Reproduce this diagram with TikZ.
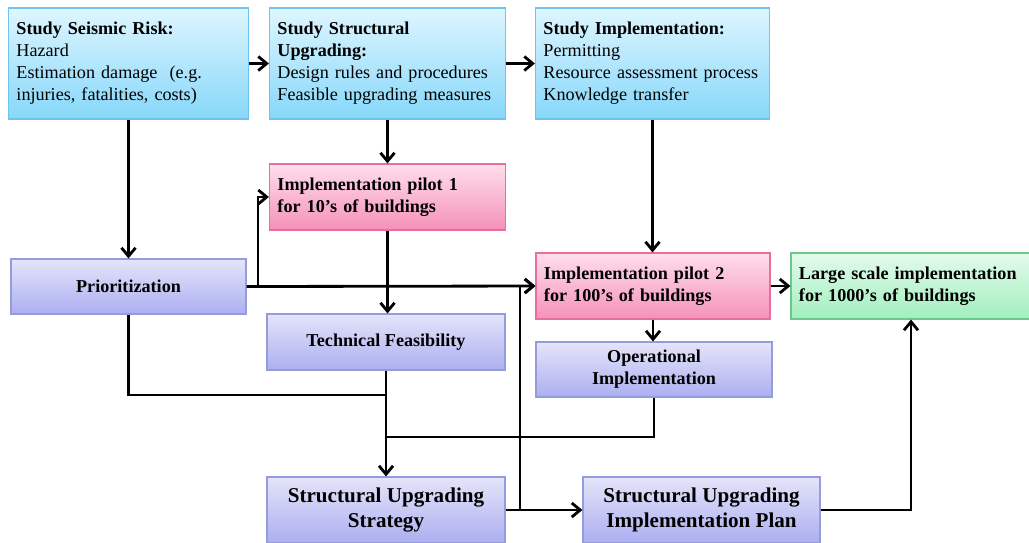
\documentclass[tikz,border=0pt]{standalone}
\usepackage{fontspec}
\setmainfont{Liberation Serif}
\usetikzlibrary{arrows.meta}
\definecolor{blueTop}{RGB}{222,246,255}
\definecolor{blueBot}{RGB}{135,215,250}
\definecolor{blueEdge}{RGB}{110,195,240}
\definecolor{pinkTop}{RGB}{255,222,234}
\definecolor{pinkBot}{RGB}{245,145,185}
\definecolor{pinkEdge}{RGB}{232,110,160}
\definecolor{lavTop}{RGB}{228,228,250}
\definecolor{lavBot}{RGB}{172,175,240}
\definecolor{lavEdge}{RGB}{150,155,220}
\definecolor{grnTop}{RGB}{228,250,236}
\definecolor{grnBot}{RGB}{160,240,190}
\definecolor{grnEdge}{RGB}{110,200,140}

\begin{document}
\begin{tikzpicture}[
    x=0.025cm, y=-0.025cm,
    box/.style={draw, line width=0.8pt, inner xsep=0.2cm, font=\fontsize{12.9}{15.6}\selectfont},
    study/.style={box, draw=blueEdge, top color=blueTop, bottom color=blueBot, align=left, minimum height=2.775cm},
    pilot/.style={box, draw=pinkEdge, top color=pinkTop, bottom color=pinkBot, align=left, minimum height=1.65cm, font=\fontsize{12.9}{15.6}\selectfont\bfseries},
    task/.style={box, draw=lavEdge, top color=lavTop, bottom color=lavBot, align=center, font=\fontsize{12.9}{15.6}\selectfont\bfseries},
    bigtask/.style={task, minimum height=1.65cm, font=\fontsize{15}{17.8}\selectfont\bfseries},
    final/.style={box, draw=grnEdge, top color=grnTop, bottom color=grnBot, align=left, minimum height=1.65cm, font=\fontsize{12.9}{15.6}\selectfont\bfseries},
    arr/.style={-{Straight Barb[length=6pt,width=10pt]}, line width=2pt},
    ln/.style={line width=2pt}
]
\useasboundingbox (0,0) rectangle (1029,542);

% Studies
\node[study, minimum width=5.975cm, text width=5.6cm] (seismic) at (128.5,63.5) {\textbf{Study Seismic Risk:}\\Hazard\\Estimation damage\ \ (e.g.\\injuries, fatalities, costs)};
\node[study, minimum width=5.875cm, text width=5.5cm] (structural) at (387.5,63.5) {\textbf{Study Structural}\\\textbf{Upgrading:}\\Design rules and procedures\\Feasible upgrading measures};
\node[study, minimum width=5.825cm, text width=5.45cm] (studyimpl) at (652.5,63.5) {\textbf{Study Implementation:}\\Permitting\\Resource assessment process\\Knowledge transfer};

% Pilots
\node[pilot, minimum width=5.875cm, text width=5.5cm] (pilot1) at (387.5,197) {Implementation pilot 1\\for 10’s of buildings};
\node[pilot, minimum width=5.85cm, text width=5.45cm] (pilot2) at (653,286) {Implementation pilot 2\\for 100’s of buildings};
\node[final, minimum width=6.0cm, text width=5.6cm] (large) at (911,286) {Large scale implementation\\for 1000’s of buildings};

% Tasks
\node[task, minimum width=5.875cm, minimum height=1.375cm] (prior) at (128.5,286.5) {Prioritization};
\node[task, minimum width=5.95cm, minimum height=1.4cm] (techfeas) at (386,342) {Technical Feasibility};
\node[task, minimum width=5.9cm, minimum height=1.375cm] (operational) at (654,369.5) {Operational\\Implementation};
\node[bigtask, minimum width=5.95cm] (strategy) at (386,510) {Structural Upgrading\\Strategy};
\node[bigtask, minimum width=5.925cm] (plan) at (701.5,510) {Structural Upgrading\\Implementation Plan};

% Junctions
\coordinate (split) at (258,286.5);
\coordinate (mergeA) at (386,395);
\coordinate (mergeB) at (386,437);
\coordinate (back) at (520,510);

\draw[arr] (seismic) -- (structural);
\draw[arr] (structural) -- (studyimpl);
\draw[arr] (seismic) -- (prior);
\draw[arr] (structural) -- (pilot1);
\draw[arr] (studyimpl.south) -- (studyimpl.south |- pilot2.north);
\draw[arr] (prior.east) -- (pilot2.west);
\draw[arr] (split) |- (pilot1.west);
\draw[arr] (pilot1.south) -- (pilot1.south |- techfeas.north);
\draw[ln] (prior.south) |- (mergeA);
\draw[arr] (techfeas) -- (strategy);
\draw[ln] (operational.south) |- (mergeB);
\draw[arr] (strategy.east) -- (plan.west);
\draw[arr] (back) |- (pilot2.west);
\draw[arr] (pilot2) -- (large);
\draw[arr] (pilot2.south) -- (pilot2.south |- operational.north);
\draw[arr] (plan.east) -| (large.south);
\end{tikzpicture}
\end{document}
